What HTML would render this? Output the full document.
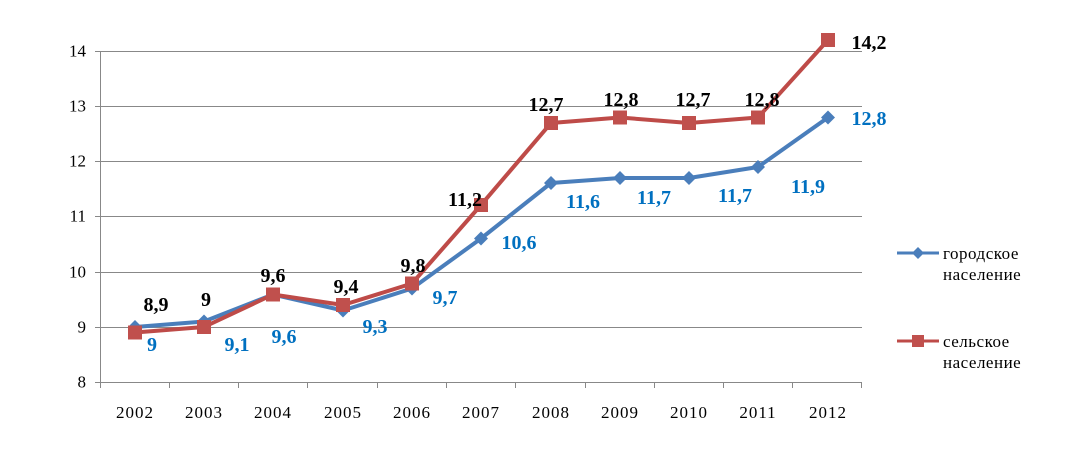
<!DOCTYPE html>
<html><head><meta charset="utf-8"><style>body{margin:0;background:#fff}</style></head><body>
<svg width="1067" height="451" xmlns="http://www.w3.org/2000/svg" font-family="Liberation Serif, serif">
<g stroke="#888" stroke-width="1">
<line x1="100" y1="51.5" x2="862" y2="51.5"/><line x1="100" y1="106.5" x2="862" y2="106.5"/>
<line x1="100" y1="161.5" x2="862" y2="161.5"/><line x1="100" y1="216.5" x2="862" y2="216.5"/>
<line x1="100" y1="272.5" x2="862" y2="272.5"/><line x1="100" y1="327.5" x2="862" y2="327.5"/>
<line x1="100" y1="382.5" x2="862" y2="382.5"/>
<line x1="100.5" y1="51" x2="100.5" y2="388"/>
<line x1="95" y1="51.5" x2="100" y2="51.5"/><line x1="95" y1="106.5" x2="100" y2="106.5"/><line x1="95" y1="161.5" x2="100" y2="161.5"/><line x1="95" y1="216.5" x2="100" y2="216.5"/><line x1="95" y1="272.5" x2="100" y2="272.5"/><line x1="95" y1="327.5" x2="100" y2="327.5"/><line x1="95" y1="382.5" x2="100" y2="382.5"/>
<line x1="169.5" y1="382" x2="169.5" y2="388"/><line x1="238.5" y1="382" x2="238.5" y2="388"/><line x1="307.5" y1="382" x2="307.5" y2="388"/><line x1="377.5" y1="382" x2="377.5" y2="388"/><line x1="446.5" y1="382" x2="446.5" y2="388"/><line x1="515.5" y1="382" x2="515.5" y2="388"/><line x1="585.5" y1="382" x2="585.5" y2="388"/><line x1="654.5" y1="382" x2="654.5" y2="388"/><line x1="723.5" y1="382" x2="723.5" y2="388"/><line x1="792.5" y1="382" x2="792.5" y2="388"/><line x1="861.5" y1="382" x2="861.5" y2="388"/>
</g>
<g font-size="17" text-anchor="end" dominant-baseline="central">
<text x="86" y="51">14</text><text x="86" y="106">13</text><text x="86" y="161">12</text><text x="86" y="216">11</text><text x="86" y="272">10</text><text x="86" y="327">9</text><text x="86" y="382">8</text>
</g>
<g font-size="17" text-anchor="middle" letter-spacing="1">
<text x="135" y="418">2002</text><text x="204" y="418">2003</text><text x="273" y="418">2004</text><text x="343" y="418">2005</text><text x="412" y="418">2006</text><text x="481" y="418">2007</text><text x="551" y="418">2008</text><text x="620" y="418">2009</text><text x="689" y="418">2010</text><text x="758" y="418">2011</text><text x="828" y="418">2012</text>
</g>
<polyline fill="none" stroke="#4a7ebb" stroke-width="4" stroke-linejoin="round" points="135,327 204,321.5 273,294.5 343,310.5 412,288.5 481,238.5 551,183 620,178 689,178 758,167 828,117.5"/>
<g fill="#4a7ebb">
<path d="M135,320l7,7l-7,7l-7-7z"/><path d="M204,314.5l7,7l-7,7l-7-7z"/><path d="M273,287.5l7,7l-7,7l-7-7z"/><path d="M343,303.5l7,7l-7,7l-7-7z"/><path d="M412,281.5l7,7l-7,7l-7-7z"/><path d="M481,231.5l7,7l-7,7l-7-7z"/><path d="M551,176l7,7l-7,7l-7-7z"/><path d="M620,171l7,7l-7,7l-7-7z"/><path d="M689,171l7,7l-7,7l-7-7z"/><path d="M758,160l7,7l-7,7l-7-7z"/><path d="M828,110.5l7,7l-7,7l-7-7z"/>
</g>
<polyline fill="none" stroke="#be4b48" stroke-width="4" stroke-linejoin="round" points="135,332.5 204,327 273,294.5 343,305 412,283.5 481,205 551,123 620,117.5 689,123 758,117.5 828,40"/>
<g fill="#c0504d">
<rect x="128" y="325.5" width="14" height="14"/><rect x="197" y="320" width="14" height="14"/><rect x="266" y="287.5" width="14" height="14"/><rect x="336" y="298" width="14" height="14"/><rect x="405" y="276.5" width="14" height="14"/><rect x="474" y="198" width="14" height="14"/><rect x="544" y="116" width="14" height="14"/><rect x="613" y="110.5" width="14" height="14"/><rect x="682" y="116" width="14" height="14"/><rect x="751" y="110.5" width="14" height="14"/><rect x="821" y="33" width="14" height="14"/>
</g>
<g font-size="20" font-weight="bold" fill="#0070c0" text-anchor="middle" dominant-baseline="central">
<text x="152" y="345">9</text><text x="237" y="345">9,1</text><text x="284" y="337">9,6</text><text x="375" y="327">9,3</text><text x="445" y="298">9,7</text><text x="519" y="243">10,6</text><text x="583" y="202">11,6</text><text x="654" y="198">11,7</text><text x="735" y="196">11,7</text><text x="808" y="187">11,9</text><text x="869" y="119">12,8</text>
</g>
<g font-size="20" font-weight="bold" fill="#000" text-anchor="middle" dominant-baseline="central">
<text x="156" y="305">8,9</text><text x="206" y="300">9</text><text x="273" y="276">9,6</text><text x="346" y="287">9,4</text><text x="413" y="266">9,8</text><text x="465" y="200">11,2</text><text x="546" y="105">12,7</text><text x="621" y="100">12,8</text><text x="693" y="100">12,7</text><text x="762" y="100">12,8</text><text x="869" y="43">14,2</text>
</g>
<line x1="897" y1="253" x2="939" y2="253" stroke="#4a7ebb" stroke-width="3"/><path d="M918,247l6,6l-6,6l-6-6z" fill="#4a7ebb"/>
<line x1="897" y1="341" x2="939" y2="341" stroke="#be4b48" stroke-width="3"/><rect x="912" y="335" width="12" height="12" fill="#c0504d"/>
<g font-size="17" fill="#000" letter-spacing="0.5">
<text x="943" y="259">городское</text><text x="943" y="280">население</text>
<text x="943" y="347">сельское</text><text x="943" y="368">население</text>
</g>
</svg>
</body></html>
